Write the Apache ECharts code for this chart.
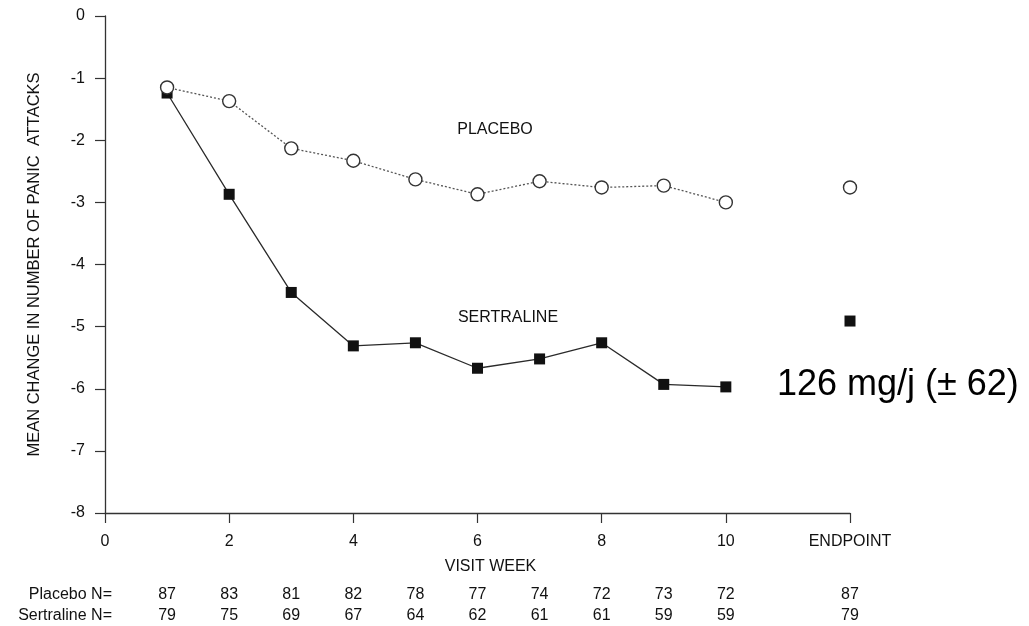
<!DOCTYPE html>
<html>
<head>
<meta charset="utf-8">
<script src="https://cdn.jsdelivr.net/npm/echarts@6/dist/echarts.min.js"></script>
<style>
  html, body { margin: 0; padding: 0; background: #ffffff; }
  #chart { width: 1029px; height: 626px; }
</style>
</head>
<body>
<div id="chart"></div>
<script>
// ---- data ----
const weeks = [1, 2, 3, 4, 5, 6, 7, 8, 9, 10];
const endpointX = 12;
const placeboValues = [-1.15, -1.37, -2.13, -2.33, -2.63, -2.87, -2.66, -2.76, -2.73, -3.0];
const sertralineValues = [-1.24, -2.87, -4.45, -5.31, -5.26, -5.67, -5.52, -5.26, -5.93, -5.97];
const placeboEndpoint = -2.76;
const sertralineEndpoint = -4.91;
const nColumns = [1, 2, 3, 4, 5, 6, 7, 8, 9, 10, 12];
const placeboN = [87, 83, 81, 82, 78, 77, 74, 72, 73, 72, 87];
const sertralineN = [79, 75, 69, 67, 64, 62, 61, 61, 59, 59, 79];
const rowNames = ['Placebo N=', 'Sertraline N='];
const xTickLabels = { 0: '0', 2: '2', 4: '4', 6: '6', 8: '8', 10: '10', 12: 'ENDPOINT' };
const yTicks = [0, -1, -2, -3, -4, -5, -6, -7, -8];

const FONT = 'Liberation Sans, Arial, sans-serif';
const TXT = '#111';
const AX = '#333';

const chart = echarts.init(document.getElementById('chart'));

const nData = [];
nColumns.forEach((x, i) => {
  nData.push([x, rowNames[0], placeboN[i]]);
  nData.push([x, rowNames[1], sertralineN[i]]);
});

chart.setOption({
  animation: false,
  backgroundColor: '#ffffff',
  textStyle: { fontFamily: FONT },
  grid: [
    { left: 105, right: 179, top: 16, bottom: 113, containLabel: false },
    { left: 105, right: 179, top: 584, height: 42, containLabel: false }
  ],
  xAxis: [
    {
      gridIndex: 0, type: 'value', min: 0, max: 12, interval: 2,
      name: 'VISIT WEEK', nameLocation: 'middle', nameGap: 46,
      nameTextStyle: { fontSize: 16, color: TXT, fontFamily: FONT, padding: [0, 0, 0, 26] },
      axisLine: { show: true, onZero: false, lineStyle: { color: AX, width: 1.3 } },
      axisTick: { show: true, length: 10, lineStyle: { color: AX, width: 1.2 } },
      axisLabel: { fontSize: 16, color: TXT, fontFamily: FONT, margin: 21,
        formatter: v => (xTickLabels[v] !== undefined ? xTickLabels[v] : '') },
      splitLine: { show: false }
    },
    {
      gridIndex: 1, type: 'value', min: 0, max: 12, show: false
    }
  ],
  yAxis: [
    {
      gridIndex: 0, type: 'value', min: -8, max: 0, interval: 1,
      name: 'MEAN CHANGE IN NUMBER OF PANIC  ATTACKS', nameLocation: 'middle', nameGap: 62, nameRotate: 90,
      nameTextStyle: { fontSize: 16.5, color: TXT, fontFamily: FONT },
      axisLine: { show: true, onZero: false, lineStyle: { color: AX, width: 1.3 } },
      axisTick: { show: true, length: 10, lineStyle: { color: AX, width: 1.2 } },
      axisLabel: { fontSize: 16, color: TXT, fontFamily: FONT, margin: 20,
        formatter: v => (yTicks.includes(v) ? String(v) : '') },
      splitLine: { show: false }
    },
    {
      gridIndex: 1, type: 'category', data: rowNames, inverse: true,
      axisLine: { show: false }, axisTick: { show: false },
      axisLabel: { fontSize: 16, color: TXT, fontFamily: FONT, margin: -7 },
      splitLine: { show: false }
    }
  ],
  series: [
    {
      name: 'Sertraline', type: 'line', xAxisIndex: 0, yAxisIndex: 0, z: 2,
      data: weeks.map((w, i) => [w, sertralineValues[i]]),
      symbol: 'rect', symbolSize: 11,
      lineStyle: { color: '#2a2a2a', width: 1.3 },
      itemStyle: { color: '#111', borderColor: '#111', borderWidth: 0, opacity: 1 }
    },
    {
      name: 'Sertraline endpoint', type: 'scatter', xAxisIndex: 0, yAxisIndex: 0, z: 2,
      data: [[endpointX, sertralineEndpoint]],
      symbol: 'rect', symbolSize: 11,
      itemStyle: { color: '#111', opacity: 1 }
    },
    {
      name: 'Placebo', type: 'line', xAxisIndex: 0, yAxisIndex: 0, z: 3,
      data: weeks.map((w, i) => [w, placeboValues[i]]),
      symbol: 'circle', symbolSize: 13, showAllSymbol: true,
      lineStyle: { color: '#555', width: 1.3, type: [2, 2] },
      itemStyle: { color: '#ffffff', borderColor: '#333', borderWidth: 1.4, opacity: 1 }
    },
    {
      name: 'Placebo endpoint', type: 'scatter', xAxisIndex: 0, yAxisIndex: 0, z: 3,
      data: [[endpointX, placeboEndpoint]],
      symbol: 'circle', symbolSize: 13,
      itemStyle: { color: '#ffffff', borderColor: '#333', borderWidth: 1.4, opacity: 1 }
    },
    {
      name: 'N table', type: 'scatter', xAxisIndex: 1, yAxisIndex: 1,
      data: nData, symbolSize: 0,
      itemStyle: { opacity: 1, color: 'rgba(0,0,0,0)' },
      label: { show: true, position: 'inside', fontSize: 16, color: TXT, fontFamily: FONT,
        opacity: 1, textBorderWidth: 0,
        formatter: p => String(p.value[2]) }
    }
  ],
  graphic: [
    { type: 'text', x: 495, y: 130, style: { text: 'PLACEBO', font: '16px ' + FONT, fill: TXT, align: 'center', verticalAlign: 'middle' } },
    { type: 'text', x: 508, y: 318, style: { text: 'SERTRALINE', font: '16px ' + FONT, fill: TXT, align: 'center', verticalAlign: 'middle' } },
    { type: 'text', x: 777, y: 385, style: { text: '126 mg/j (± 62)', font: '36px ' + FONT, fill: '#000', align: 'left', verticalAlign: 'middle' } }
  ]
});
</script>
</body>
</html>
